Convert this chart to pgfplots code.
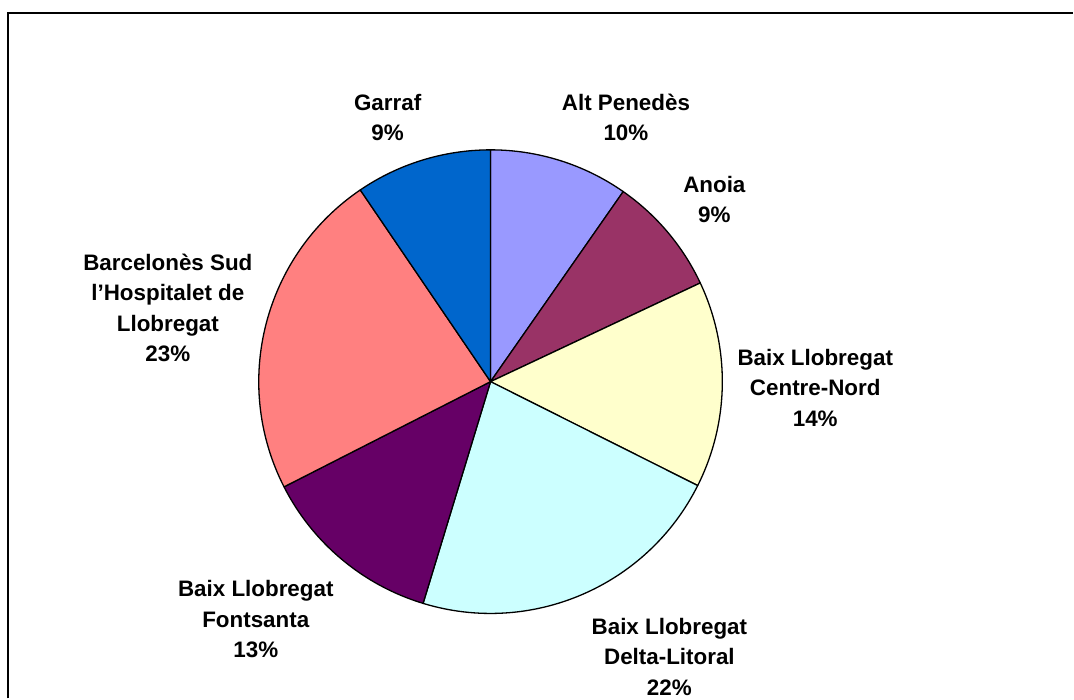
\documentclass[border=0pt]{standalone}
\usepackage{pgfplots}
\pgfplotsset{compat=1.18}
\usepackage{pgfplotstable}
\usepackage{fontspec}
\setmainfont{Liberation Sans}

\definecolor{altpenedes}{HTML}{9999FF}
\definecolor{anoia}{HTML}{993366}
\definecolor{centrenord}{HTML}{FFFFCC}
\definecolor{deltalitoral}{HTML}{CCFFFF}
\definecolor{fontsanta}{HTML}{660066}
\definecolor{barcelones}{HTML}{FF8080}
\definecolor{garraf}{HTML}{0066CC}

\tikzset{lbl/.style={font=\fontsize{22.4bp}{30.5bp}\selectfont\bfseries,
    align=center, inner sep=0pt}}

% shares in percent, clockwise from 12 o'clock
\pgfplotstableread{
share col
9.7  altpenedes
8.3  anoia
14.4 centrenord
22.3 deltalitoral
12.8 fontsanta
23.0 barcelones
9.5  garraf
}\slices

\begin{document}
\begin{tikzpicture}
\begin{axis}[
    width=1074bp, height=699bp, scale only axis,
    xmin=0, xmax=1074, ymin=0, ymax=699,
    hide axis, clip=false,
]
\path (axis cs:0,0) rectangle (axis cs:1074,699);
\draw[line width=2bp] (axis cs:8,0) -- (axis cs:8,686) -- (axis cs:1074,686);

\pgfplotstablegetrowsof{\slices}
\pgfmathtruncatemacro\lastrow{\pgfplotsretval-1}
\def\cum{0}
\pgfplotsforeachungrouped \i in {0,...,\lastrow}{%
  \pgfplotstablegetelem{\i}{share}\of\slices \let\pshare\pgfplotsretval
  \pgfplotstablegetelem{\i}{col}\of\slices \let\pcol\pgfplotsretval
  \pgfmathsetmacro\pa{90-3.6*\cum}
  \pgfmathsetmacro\pb{90-3.6*(\cum+\pshare)}
  \edef\slice{\noexpand\filldraw[fill=\pcol, draw=black, line width=1.3bp, line join=round]
    (axis cs:491,317) -- ([shift={(\pa:232bp)}]axis cs:491,317)
    arc[start angle=\pa, end angle=\pb, radius=232bp] -- cycle;}
  \slice
  \pgfmathsetmacro\cum{\cum+\pshare}
}

\node[lbl] at (axis cs:388,581.5) {Garraf\\9\%};
\node[lbl] at (axis cs:626.5,581.5) {Alt Penedès\\10\%};
\node[lbl] at (axis cs:715,499.5) {Anoia\\9\%};
\node[lbl] at (axis cs:816,311) {Baix Llobregat\\Centre-Nord\\14\%};
\node[lbl] at (axis cs:670,41.5) {Baix Llobregat\\Delta-Litoral\\22\%};
\node[lbl] at (axis cs:256,79) {Baix Llobregat\\Fontsanta\\13\%};
\node[lbl] at (axis cs:168,391) {Barcelonès Sud\\l’Hospitalet de\\Llobregat\\23\%};
\end{axis}
\end{tikzpicture}
\end{document}
